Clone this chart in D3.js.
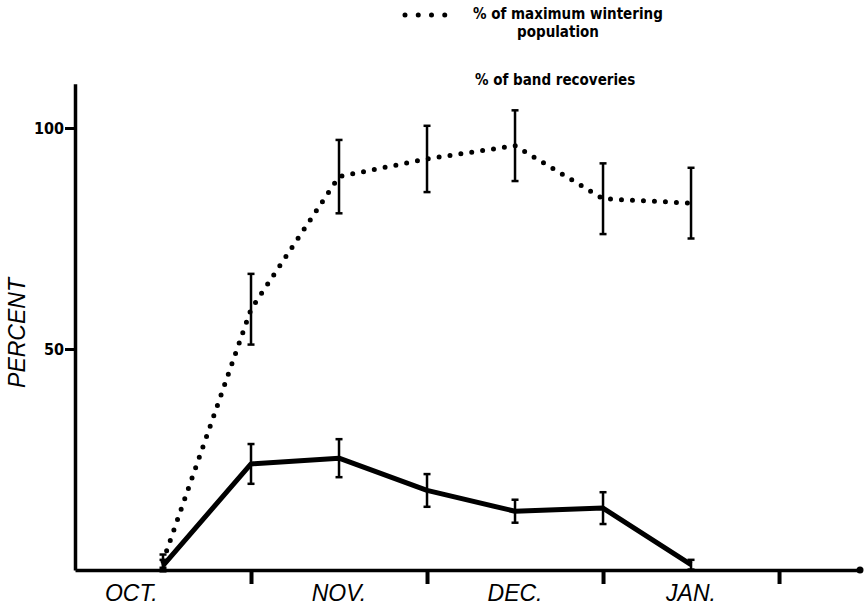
<!DOCTYPE html>
<html>
<head>
<meta charset="utf-8">
<script src="https://cdn.jsdelivr.net/npm/d3@7"></script>
<style>
  body { margin: 0; background: #fff; }
</style>
</head>
<body>
<div id="chart"></div>
<script>
    // data: months counted from Oct 1
    var samplePoints = [0.5, 1, 1.5, 2, 2.5, 3, 3.5];
    var popValues = [2, 59, 89, 93, 96, 84, 83];
    var popErr = [1.5, 8, 8.3, 7.5, 8, 8, 8];
    var bandValues = [1, 24, 25.3, 18, 13.3, 14, 1.2];
    var bandErr = [1.3, 4.5, 4.3, 3.7, 2.6, 3.6, 1.1];

    var monthTicks = [1, 2, 3, 4];
    var monthLabels = ["OCT.", "NOV.", "DEC.", "JAN."];
    var monthLabelPos = [0.32, 1.5, 2.5, 3.5];
    var yTicks = [50, 100];

    var W = 864, H = 610;
    var boldFont = "'DejaVu Sans Condensed', 'DejaVu Sans', sans-serif";

    var svg = d3.select("#chart")
      .append("svg")
        .attr("width", W)
        .attr("height", H);

    // scales
    var x = d3.scaleLinear().domain([0, 4.46]).range([75, 860]);
    var y = d3.scaleLinear().domain([0, 110]).range([570, 83.8]);

    // x axis
    var xAxis = svg.append("g")
        .attr("transform", "translate(0," + y(0) + ")")
        .call(d3.axisBottom(x).tickValues(monthTicks).tickSize(14).tickSizeOuter(0).tickFormat(""));
    xAxis.select(".domain").attr("stroke", "#000").attr("stroke-width", 3.5);
    xAxis.selectAll(".tick line").attr("stroke", "#000").attr("stroke-width", 4);
    svg.append("circle")
        .attr("cx", x.range()[1])
        .attr("cy", y(0))
        .attr("r", 3.5)
        .attr("fill", "#000");

    // month names
    svg.selectAll("monthlabel")
      .data(monthLabels)
      .enter()
      .append("text")
        .attr("x", function(d, i) { return x(monthLabelPos[i]); })
        .attr("y", 601)
        .attr("text-anchor", "middle")
        .style("font-family", "'Liberation Sans', Arial, sans-serif")
        .style("font-style", "italic")
        .style("font-size", "23px")
        .text(function(d) { return d; });

    // y axis
    var yAxis = svg.append("g")
        .attr("transform", "translate(" + x(0) + ",0)")
        .call(d3.axisLeft(y).tickValues(yTicks).tickSize(10).tickPadding(1).tickSizeOuter(0));
    yAxis.select(".domain").attr("stroke", "#000").attr("stroke-width", 3.5);
    yAxis.selectAll(".tick line").attr("stroke", "#000").attr("stroke-width", 3);
    yAxis.selectAll(".tick text")
        .attr("fill", "#000")
        .style("font-family", boldFont)
        .style("font-stretch", "condensed")
        .style("font-weight", "bold")
        .style("font-size", "16px");

    // y title
    svg.append("text")
        .attr("transform", "translate(25,333) rotate(-90)")
        .attr("text-anchor", "middle")
        .style("font-family", "'Liberation Sans', Arial, sans-serif")
        .style("font-style", "italic")
        .style("font-size", "23px")
        .text("PERCENT");

    var popData = samplePoints.map(function(m, i) { return {m: m, v: popValues[i], e: popErr[i]}; });
    var bandData = samplePoints.map(function(m, i) { return {m: m, v: bandValues[i], e: bandErr[i]}; });

    var line = d3.line()
        .x(function(d) { return x(d.m); })
        .y(function(d) { return y(d.v); });

    // dotted population line
    svg.append("path")
        .datum(popData)
        .attr("d", line)
        .attr("fill", "none")
        .attr("stroke", "#000")
        .attr("stroke-width", 5)
        .attr("stroke-linecap", "round")
        .attr("stroke-dasharray", "0,11");

    // solid band recoveries line
    svg.append("path")
        .datum(bandData)
        .attr("d", line)
        .attr("fill", "none")
        .attr("stroke", "#000")
        .attr("stroke-width", 5)
        .attr("stroke-linejoin", "round");

    // error bars
    function errorBars(data) {
      var g = svg.append("g").attr("stroke", "#000");
      g.selectAll("line.bar")
        .data(data)
        .enter()
        .append("line")
          .attr("x1", function(d) { return x(d.m); })
          .attr("x2", function(d) { return x(d.m); })
          .attr("y1", function(d) { return y(d.v + d.e); })
          .attr("y2", function(d) { return y(d.v - d.e); })
          .attr("stroke-width", 2.5);
      g.selectAll("line.top")
        .data(data)
        .enter()
        .append("line")
          .attr("x1", function(d) { return x(d.m) - 3.5; })
          .attr("x2", function(d) { return x(d.m) + 3.5; })
          .attr("y1", function(d) { return y(d.v + d.e); })
          .attr("y2", function(d) { return y(d.v + d.e); })
          .attr("stroke-width", 2.5);
      g.selectAll("line.bottom")
        .data(data)
        .enter()
        .append("line")
          .attr("x1", function(d) { return x(d.m) - 3.5; })
          .attr("x2", function(d) { return x(d.m) + 3.5; })
          .attr("y1", function(d) { return y(d.v - d.e); })
          .attr("y2", function(d) { return y(d.v - d.e); })
          .attr("stroke-width", 2.5);
    }
    errorBars(popData);
    errorBars(bandData);

    // legend
    svg.append("line")
        .attr("x1", 405).attr("x2", 458)
        .attr("y1", 15).attr("y2", 15)
        .attr("stroke", "#000")
        .attr("stroke-width", 5)
        .attr("stroke-linecap", "round")
        .attr("stroke-dasharray", "0,13.25");
    function legendText(tx, ty, anchor, s) {
      svg.append("text").attr("x", tx).attr("y", ty).attr("text-anchor", anchor)
          .style("font-family", boldFont)
          .style("font-stretch", "condensed")
          .style("font-weight", "bold")
          .style("font-size", "15px")
          .text(s);
    }
    legendText(473, 19, "start", "% of maximum wintering");
    legendText(558, 37, "middle", "population");
    legendText(475, 85, "start", "% of band recoveries");
</script>
</body>
</html>
